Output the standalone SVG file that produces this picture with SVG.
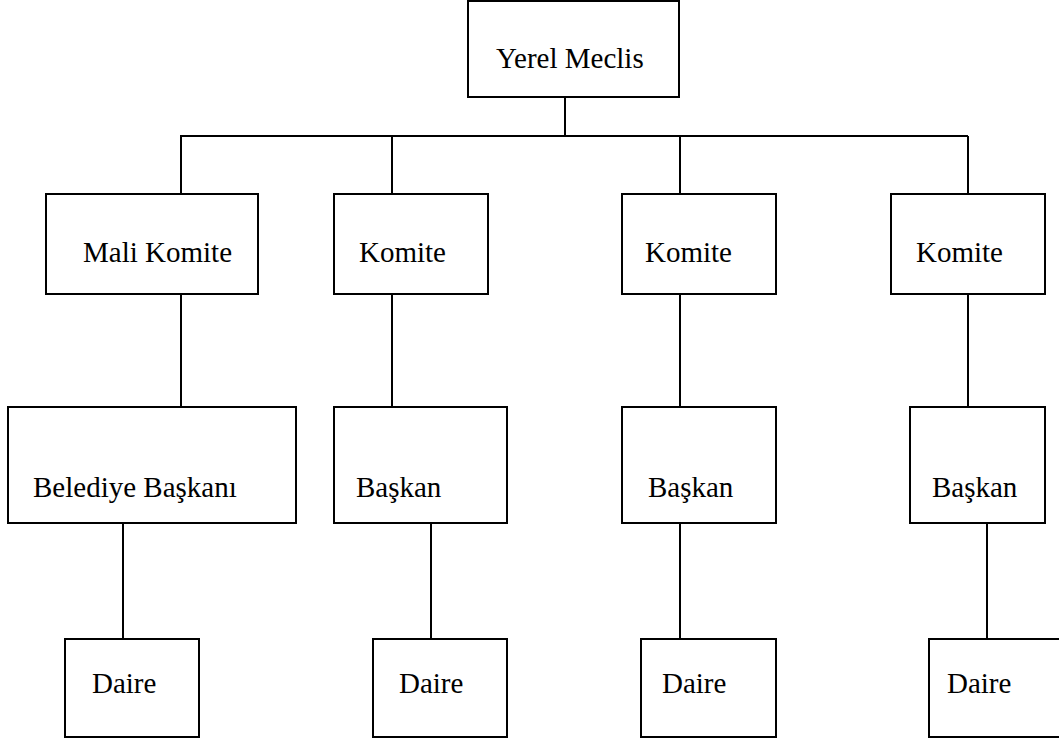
<svg xmlns="http://www.w3.org/2000/svg" width="1059" height="742" viewBox="0 0 1059 742">
<style>
rect{fill:#fff;stroke:#000;stroke-width:2}
line{stroke:#000;stroke-width:2}
text{font-family:"Liberation Serif","Times New Roman",serif;font-size:29px;fill:#000}
</style>
<rect x="0" y="0" width="1059" height="742" style="stroke:none"/>
<g id="connectors">
<line x1="565" y1="97" x2="565" y2="136"/>
<line x1="180" y1="136" x2="968" y2="136"/>
<line x1="181" y1="136" x2="181" y2="194"/>
<line x1="392" y1="136" x2="392" y2="194"/>
<line x1="680" y1="136" x2="680" y2="194"/>
<line x1="968" y1="136" x2="968" y2="194"/>
<line x1="181" y1="294" x2="181" y2="407"/>
<line x1="392" y1="294" x2="392" y2="407"/>
<line x1="680" y1="294" x2="680" y2="407"/>
<line x1="968" y1="294" x2="968" y2="407"/>
<line x1="123" y1="523" x2="123" y2="639"/>
<line x1="431" y1="523" x2="431" y2="639"/>
<line x1="680" y1="523" x2="680" y2="639"/>
<line x1="987" y1="523" x2="987" y2="639"/>
</g>
<g id="yerel-meclis"><rect x="468" y="1" width="211" height="96"/><text x="496" y="68">Yerel Meclis</text></g>
<g id="mali-komite"><rect x="46" y="194" width="212" height="100"/><text x="83" y="262">Mali Komite</text></g>
<g id="komite-2"><rect x="334" y="194" width="154" height="100"/><text x="359" y="262">Komite</text></g>
<g id="komite-3"><rect x="622" y="194" width="154" height="100"/><text x="645" y="262">Komite</text></g>
<g id="komite-4"><rect x="891" y="194" width="154" height="100"/><text x="916" y="262">Komite</text></g>
<g id="belediye-baskani"><rect x="8" y="407" width="288" height="116"/><text x="33" y="497">Belediye Başkanı</text></g>
<g id="baskan-2"><rect x="334" y="407" width="173" height="116"/><text x="356" y="497">Başkan</text></g>
<g id="baskan-3"><rect x="622" y="407" width="154" height="116"/><text x="648" y="497">Başkan</text></g>
<g id="baskan-4"><rect x="910" y="407" width="135" height="116"/><text x="932" y="497">Başkan</text></g>
<g id="daire-1"><rect x="65" y="639" width="134" height="98"/><text x="92" y="693">Daire</text></g>
<g id="daire-2"><rect x="373" y="639" width="134" height="98"/><text x="399" y="693">Daire</text></g>
<g id="daire-3"><rect x="641" y="639" width="135" height="98"/><text x="662" y="693">Daire</text></g>
<g id="daire-4"><rect x="929" y="639" width="135" height="98"/><text x="947" y="693">Daire</text></g>
</svg>
